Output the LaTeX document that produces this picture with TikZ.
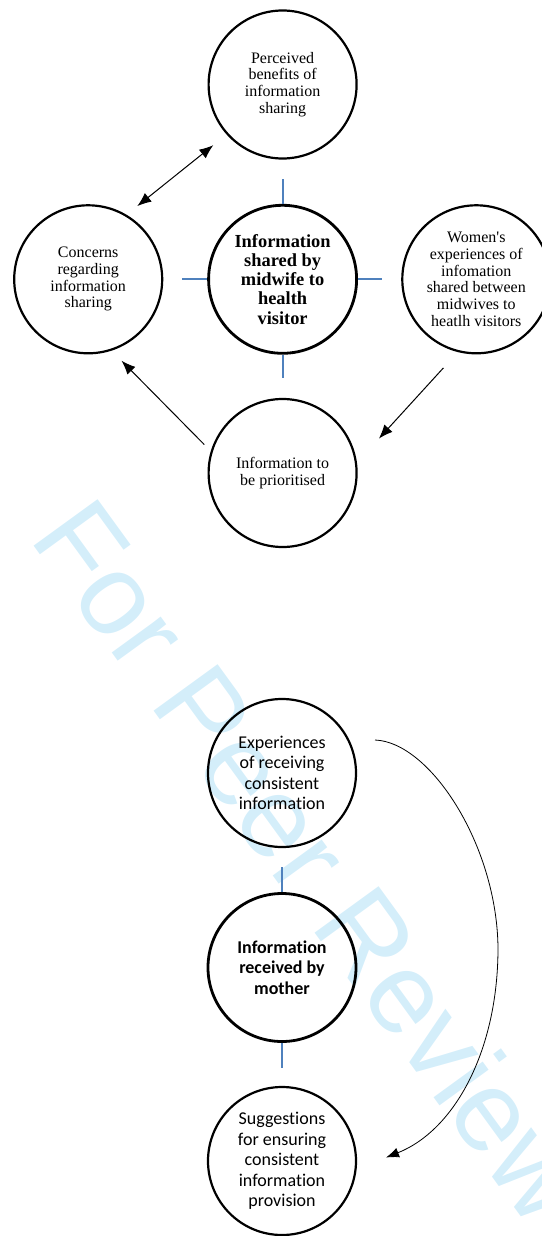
\documentclass[tikz,border=0pt]{standalone}
\usepackage{fontspec}
\setmainfont[Ligatures=NoCommon]{Liberation Serif}
\newfontfamily\calibrifont[Ligatures=NoCommon]{Carlito}
\newfontfamily\arialfont{Liberation Sans}
\usepackage{xcolor}
\usepackage{tikz}
\usetikzlibrary{arrows.meta}
\definecolor{stubblue}{RGB}{79,129,189}
\definecolor{wmcyan}{RGB}{212,238,250}
\tikzset{
    theme/.style={circle, draw, line width=2.2pt, minimum size=148pt, inner sep=0pt, align=center,
        font=\fontsize{16}{16.7}\selectfont},
    core/.style={theme, line width=2.8pt, font=\bfseries\fontsize{18.4}{19.2}\selectfont},
    ctheme/.style={theme, font=\calibrifont\fontsize{18}{20.5}\selectfont},
    ccore/.style={theme, line width=2.8pt, font=\calibrifont\bfseries\fontsize{18}{20.5}\selectfont},
    stub/.style={stubblue, line width=2pt},
    arr/.style={line width=1pt, -{Latex[length=14pt,width=11pt]}},
    biarr/.style={line width=1pt, {Latex[length=14pt,width=11pt]}-{Latex[length=14pt,width=11pt]}},
    wmark/.style={text=wmcyan, inner sep=0pt, font=\arialfont\fontsize{115}{115}\selectfont}
}
\begin{document}
\begin{tikzpicture}[x=1pt,y=-1pt]
            \useasboundingbox (0,0) rectangle (541,1236);
            \node[wmark, rotate=-54, anchor=base west] (wm) at (28,538) {For Peer Review};
            \node[theme] (perc) at (282.6,84.5) {Perceived\\benefits of\\information\\sharing};
            \node[core] (info) at (282.6,279.3) {Information\\shared by\\midwife to\\health\\visitor};
            \node[theme] (conc) at (88.2,279.3) {Concerns\\regarding\\information\\sharing};
            \node[theme] (wom) at (476.3,279.3) {Women\textquotesingle s\\experiences of\\infomation\\shared between\\midwives to\\heatlh visitors};
            \node[theme] (prio) at (282.6,473) {Information to\\be prioritised};
            \draw[stub] (info.north) -- ++(0,-24.7);
            \draw[stub] (info.west) -- ++(-25,0);
            \draw[stub] (info.east) -- ++(24,0);
            \draw[stub] (info.south) -- ++(0,23);
            \coordinate (d1) at (137.3,206.1);
            \coordinate (d2) at (213.3,145.2);
            \coordinate (w1) at (443.4,367.9);
            \coordinate (w2) at (378.9,438.6);
            \coordinate (p1) at (204.3,444.6);
            \coordinate (p2) at (121.5,360.7);
            \draw[biarr] (d1) -- (d2);
            \draw[arr] (w1) -- (w2);
            \draw[arr] (p1) -- (p2);
            \node[ctheme] (exp) at (282,773) {Experiences\\of receiving\\consistent\\information};
            \node[ccore] (recv) at (282,967.5) {Information\\received by\\mother};
            \node[ctheme] (sugg) at (282,1161) {Suggestions\\for ensuring\\consistent\\information\\provision};
            \draw[stub] (recv.north) -- ++(0,-25.5);
            \draw[stub] (recv.south) -- ++(0,24.6);
            \coordinate (e1) at (375,740);
            \coordinate (e2) at (386,1157.5);
            \draw[line width=0.8pt, -{Latex[length=13pt,width=10pt]}] (e1) .. controls (430,742) and (497,845) .. (498,948)
                .. controls (498,1050) and (455,1130) .. (e2);
          \end{tikzpicture}
\end{document}
